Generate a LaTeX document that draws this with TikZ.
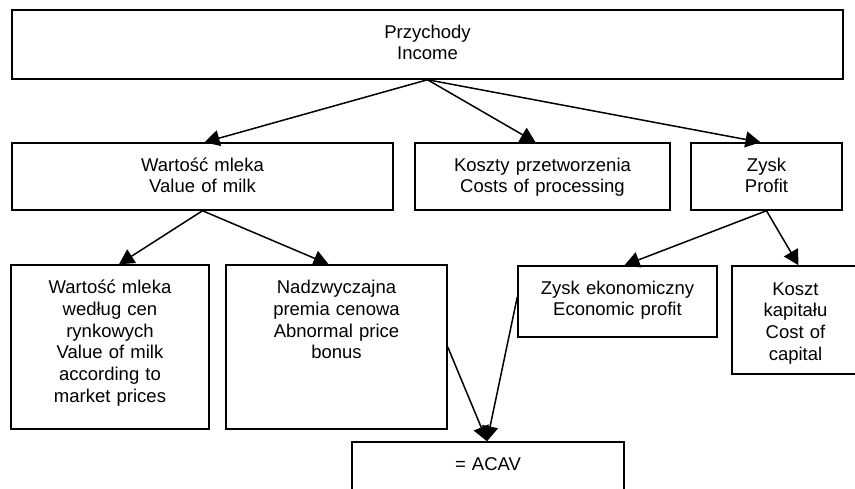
\documentclass[tikz,border=0pt]{standalone}
\usepackage{fontspec}
\setmainfont{Liberation Sans}
\usetikzlibrary{arrows.meta}
\begin{document}
\begin{tikzpicture}[x=1pt,y=-1pt,
  box/.style={draw, line width=1.5pt, rectangle, inner sep=0pt},
  lbl/.style={font=\fontsize{18.5}{21.7}\selectfont, align=center, text width=#1, inner sep=0pt, anchor=base},
  arr/.style={line width=1.5pt, -{Triangle[length=15pt,width=16pt]}}]
\useasboundingbox (0,0) rectangle (855,489);
% boxes
\node[box, minimum width=831pt, minimum height=69pt] (top) at (427.5,44.5) {};
\node[box, minimum width=381pt, minimum height=67pt] (vom) at (202.5,176.5) {};
\node[box, minimum width=255pt, minimum height=67pt] (kos) at (542.5,176.5) {};
\node[box, minimum width=151pt, minimum height=67pt] (zys) at (766.5,176.5) {};
\node[box, minimum width=198pt, minimum height=164pt] (b1) at (110,347) {};
\node[box, minimum width=221pt, minimum height=164pt] (b2) at (336.5,347) {};
\node[box, minimum width=199pt, minimum height=71pt] (ze) at (617.5,301.5) {};
\node[box, minimum width=127pt, minimum height=108pt] (kk) at (795.5,320) {};
\node[box, minimum width=272pt, minimum height=68pt] (ac) at (488,476) {};
% labels
\node[lbl=800pt] (ttop) at ([yshift=-29pt]top.north) {Przychody\\Income};
\node[lbl=370pt] (tvom) at ([yshift=-29pt]vom.north) {Wartość mleka\\Value of milk};
\node[lbl=250pt] (tkos) at ([yshift=-29pt]kos.north) {Koszty przetworzenia\\Costs of processing};
\node[lbl=145pt] (tzys) at ([yshift=-29pt]zys.north) {Zysk\\Profit};
\node[lbl=195pt] (tb1) at ([yshift=-29.5pt]b1.north) {Wartość mleka\\według cen\\rynkowych\\Value of milk\\according to\\market prices};
\node[lbl=215pt] (tb2) at ([yshift=-29.5pt]b2.north) {Nadzwyczajna\\premia cenowa\\Abnormal price\\bonus};
\node[lbl=195pt] (tze) at ([yshift=-29pt]ze.north) {Zysk ekonomiczny\\Economic profit};
\node[lbl=125pt] (tkk) at ([yshift=-30pt]kk.north) {Koszt\\kapitału\\Cost of\\capital};
\node[lbl=260pt] (tac) at ([yshift=-29.5pt]ac.north) {= ACAV};
% connectors
\draw[arr] (top.south) -- ([xshift=2pt]vom.north);
\draw[arr] (top.south) -- ([xshift=-7pt]kos.north);
\draw[arr] (top.south) -- ([xshift=-6pt]zys.north);
\draw[arr] (vom.south) -- ([xshift=9pt]b1.north);
\draw[arr] (vom.south) -- ([xshift=-8pt]b2.north);
\draw[arr] (zys.south) -- ([xshift=7pt]ze.north);
\draw[arr] (zys.south) -- ([xshift=3pt]kk.north);
\draw[arr] (b2.east) -- ([xshift=-1pt]ac.north);
\draw[arr] ([yshift=4.5pt]ze.west) -- ([xshift=-1pt]ac.north);
\end{tikzpicture}
\end{document}
